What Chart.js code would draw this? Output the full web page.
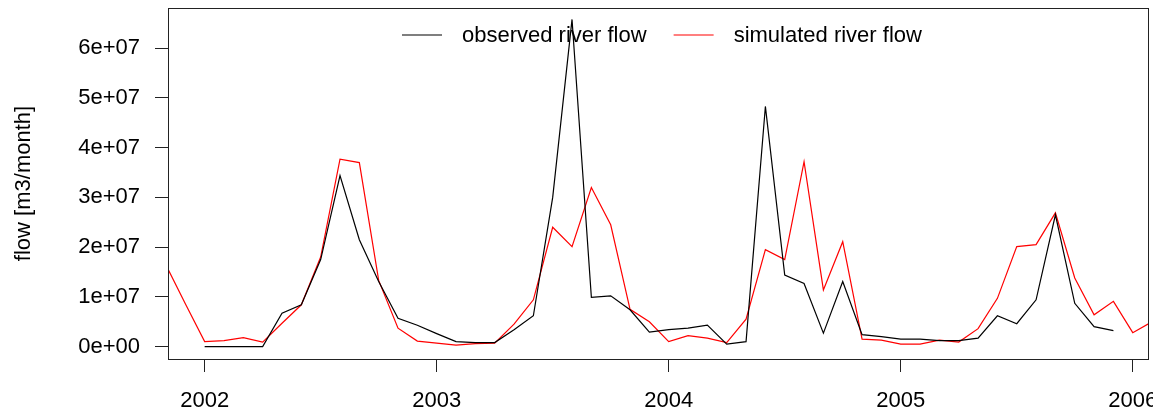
<!DOCTYPE html>
<html>
<head>
<meta charset="utf-8">
<title>River flow</title>
<script src="https://cdn.jsdelivr.net/npm/chart.js@4/dist/chart.umd.min.js"></script>
<style>
    html, body { margin: 0; padding: 0; background: #fff; }
    #wrap { width: 1166px; height: 419px; position: relative; }
</style>
</head>
<body>
<div id="wrap"><canvas id="flowChart"></canvas></div>
<script>
// monthly series, decimal year of first month
const observedStart = 2002.0;          // Jan 2002
const simulatedStart = 2001 + 10 / 12; // Nov 2001

const observedFlow = [
    0, 0, 0, 0, 0.67e7, 0.84e7, 1.75e7, 3.44e7, 2.15e7, 1.31e7, 0.57e7, 0.43e7,
    0.26e7, 0.10e7, 0.08e7, 0.08e7, 0.34e7, 0.62e7, 3.0e7, 6.58e7, 0.99e7, 1.02e7, 0.74e7, 0.29e7,
    0.34e7, 0.37e7, 0.43e7, 0.05e7, 0.10e7, 4.83e7, 1.44e7, 1.27e7, 0.27e7, 1.31e7, 0.24e7, 0.20e7,
    0.15e7, 0.15e7, 0.12e7, 0.12e7, 0.17e7, 0.62e7, 0.46e7, 0.94e7, 2.65e7, 0.87e7, 0.40e7, 0.32e7
];

const simulatedFlow = [
    1.64e7, 0.86e7,
    0.10e7, 0.12e7, 0.18e7, 0.09e7, 0.47e7, 0.84e7, 1.80e7, 3.77e7, 3.70e7, 1.33e7, 0.37e7, 0.11e7,
    0.07e7, 0.03e7, 0.06e7, 0.07e7, 0.45e7, 0.94e7, 2.40e7, 2.01e7, 3.20e7, 2.45e7, 0.75e7, 0.50e7,
    0.10e7, 0.22e7, 0.17e7, 0.08e7, 0.55e7, 1.95e7, 1.75e7, 3.72e7, 1.14e7, 2.11e7, 0.15e7, 0.13e7,
    0.05e7, 0.05e7, 0.13e7, 0.09e7, 0.36e7, 0.97e7, 2.01e7, 2.05e7, 2.69e7, 1.38e7, 0.64e7, 0.91e7,
    0.28e7, 0.50e7
];

const xTicks = [2002, 2003, 2004, 2005, 2006];
const yTicks = [0, 1e7, 2e7, 3e7, 4e7, 5e7, 6e7];

const seriesLabels = ['observed river flow', 'simulated river flow'];
const seriesColors = ['#000000', '#ff0000'];

function toPoints(start, values) {
    return values.map((v, i) => ({ x: start + i / 12, y: v }));
}

// fixed axis sizes, no extra room for overhanging labels
function fixAxis(axis, size) {
    if (axis.isHorizontal()) axis.height = size;
    else axis.width = size;
    axis.paddingLeft = axis.paddingRight = axis.paddingTop = axis.paddingBottom = 0;
}

const FONT = '"Liberation Sans", Arial, sans-serif';
const FONT_SIZE = 22;

// R style box around the plot and a legend inside the top of it
const boxLegend = {
    id: 'boxLegend',
    afterDraw(chart) {
        const ctx = chart.ctx;
        const a = chart.chartArea;
        ctx.save();
        ctx.strokeStyle = '#222';
        ctx.lineWidth = 1;
        ctx.strokeRect(Math.round(a.left) + 0.5, Math.round(a.top) + 0.5,
            Math.round(a.right - a.left) - 1, Math.round(a.bottom - a.top));

        ctx.font = FONT_SIZE + 'px ' + FONT;
        ctx.textBaseline = 'middle';
        ctx.fillStyle = '#000';
        let x = a.left + 234;
        const y = a.top + 27;
        chart.data.datasets.forEach(ds => {
            ctx.strokeStyle = ds.borderColor;
            ctx.lineWidth = 1.2;
            ctx.beginPath();
            ctx.moveTo(x, y);
            ctx.lineTo(x + 40, y);
            ctx.stroke();
            ctx.fillText(ds.label, x + 60, y + 1);
            x += 60 + ctx.measureText(ds.label).width + 27;
        });

        // the original figure is cut just right of the last year label
        ctx.fillStyle = '#fff';
        ctx.fillRect(1153, a.bottom + 6, chart.width - 1153, chart.height - a.bottom);
        ctx.restore();
    }
};

const ctx = document.getElementById('flowChart').getContext('2d');
new Chart(ctx, {
    type: 'line',
    data: {
        datasets: [
            {
                label: seriesLabels[0],
                data: toPoints(observedStart, observedFlow),
                borderColor: seriesColors[0],
                borderWidth: 1.2,
                pointRadius: 0,
                tension: 0
            },
            {
                label: seriesLabels[1],
                data: toPoints(simulatedStart, simulatedFlow),
                borderColor: seriesColors[1],
                borderWidth: 1.2,
                pointRadius: 0,
                tension: 0
            }
        ]
    },
    options: {
        responsive: true,
        maintainAspectRatio: false,
        animation: false,
        layout: { padding: { top: 8, right: 17, left: 0, bottom: 0 } },
        plugins: {
            legend: { display: false },
            tooltip: { enabled: false }
        },
        scales: {
            x: {
                type: 'linear',
                min: 2001.842,
                max: 2006.07,
                afterBuildTicks: axis => { axis.ticks = xTicks.map(v => ({ value: v })); },
                afterFit: axis => fixAxis(axis, 60),
                border: { display: false },
                grid: { display: true, drawOnChartArea: false, drawTicks: true, tickLength: 13, color: '#222', lineWidth: 1 },
                ticks: {
                    color: '#000',
                    padding: 16,
                    maxRotation: 0,
                    font: { family: FONT, size: FONT_SIZE },
                    callback: v => String(v)
                }
            },
            y: {
                min: -0.25e7,
                max: 6.81e7,
                afterBuildTicks: axis => { axis.ticks = yTicks.map(v => ({ value: v })); },
                afterFit: axis => fixAxis(axis, 168),
                border: { display: false },
                grid: { display: true, drawOnChartArea: false, drawTicks: true, tickLength: 13, color: '#222', lineWidth: 1 },
                ticks: {
                    color: '#000',
                    padding: 15,
                    font: { family: FONT, size: FONT_SIZE },
                    callback: v => v.toExponential(0).replace(/e([+-])(\d)$/, 'e$10$2')
                },
                title: {
                    display: true,
                    text: 'flow [m3/month]',
                    color: '#000',
                    padding: { top: 11, bottom: 0 },
                    font: { family: FONT, size: FONT_SIZE }
                }
            }
        }
    },
    plugins: [boxLegend]
});
</script>
</body>
</html>
